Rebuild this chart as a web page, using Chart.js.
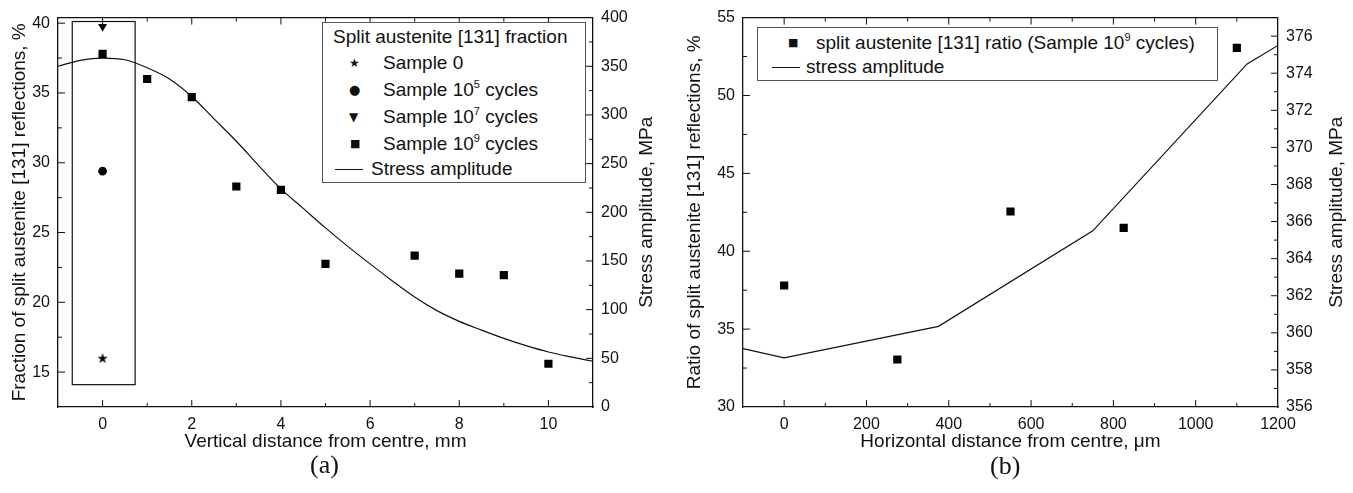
<!DOCTYPE html>
<html>
<head>
<meta charset="utf-8">
<script src="https://cdn.jsdelivr.net/npm/chart.js@4.4.1/dist/chart.umd.min.js"></script>
<style>
  body { margin: 0; background: #fff; width: 1353px; height: 493px; position: relative; overflow: hidden;
         font-family: 'Liberation Sans', Arial, sans-serif; color: #111; }
  canvas { position: absolute; top: 0; }
  #chartA { left: 0; }
  #chartB { left: 676px; }
  .legend { position: absolute; border: 1px solid #555; background: #fff; }
  .row { position: absolute; font-size: 19px; line-height: 20px; white-space: nowrap; }
  .row sup { font-size: 11px; vertical-align: 8px; line-height: 0; }
  .sym { position: absolute; font-family: 'DejaVu Sans', sans-serif; line-height: 20px; }
  .dash { position: absolute; height: 0; border-top: 1.3px solid #111; }
  .cap { position: absolute; font-family: 'Liberation Serif', 'Times New Roman', serif; font-size: 26px; }
</style>
</head>
<body>
<canvas id="chartA" width="676" height="493"></canvas>
<canvas id="chartB" width="677" height="493"></canvas>

<!-- legend (a) -->
<div class="legend" style="left:322px; top:22px; width:262px; height:159px;"></div>
<div class="row" style="left:333px; top:27px;">Split austenite [131] fraction</div>
<div class="sym" style="left:349px; top:53px; font-size:12px;">&#9733;</div>
<div class="row" style="left:383px; top:53px;">Sample 0</div>
<div class="sym" style="left:349px; top:80px; font-size:13px;">&#9679;</div>
<div class="row" style="left:383px; top:80px;">Sample 10<sup>5</sup> cycles</div>
<div class="sym" style="left:349px; top:107px; font-size:12px;">&#9660;</div>
<div class="row" style="left:383px; top:107px;">Sample 10<sup>7</sup> cycles</div>
<div class="sym" style="left:350px; top:134px; font-size:11px;">&#9632;</div>
<div class="row" style="left:383px; top:134px;">Sample 10<sup>9</sup> cycles</div>
<div class="dash" style="left:335px; top:169px; width:28px;"></div>
<div class="row" style="left:371px; top:159px;">Stress amplitude</div>

<!-- legend (b) -->
<div class="legend" style="left:757px; top:27px; width:459px; height:52px;"></div>
<div class="sym" style="left:788px; top:33px; font-size:11px;">&#9632;</div>
<div class="row" style="left:816px; top:33px;">split austenite [131] ratio (Sample 10<sup>9</sup> cycles)</div>
<div class="dash" style="left:772px; top:67px; width:28px;"></div>
<div class="row" style="left:806px; top:57px;">stress amplitude</div>

<div class="cap" style="left:310px; top:450px;">(a)</div>
<div class="cap" style="left:990px; top:451px;">(b)</div>

<script>
// ---- panel (a): vertical distance, mm ----
const aStressX = [-1, -0.5, 0, 0.5, 1, 1.5, 2, 2.5, 3, 3.5, 4, 4.5, 5, 5.5, 6, 6.5, 7, 7.5, 8, 8.5, 9, 9.5, 10, 10.5, 11];
const aStress  = [350, 356, 358.4, 356.7, 348.5, 337, 319, 296, 273, 248, 224, 204, 184, 165, 147, 129.5, 113, 99, 88, 79, 70.5, 63, 56.5, 51.5, 47];
const sample0X = [0],  sample0 = [16.0];
const sample5X = [0],  sample5 = [29.4];
const sample7X = [0],  sample7 = [39.75];
const sample9X = [0, 1, 2, 3, 4, 5, 7, 8, 9, 10];
const sample9  = [37.8, 36.0, 34.7, 28.3, 28.05, 22.75, 23.35, 22.05, 21.95, 15.6];
const aTicksX  = [0, 2, 4, 6, 8, 10];
const aTicksY  = [15, 20, 25, 30, 35, 40];
const aTicksY2 = [0, 50, 100, 150, 200, 250, 300, 350, 400];
// box drawn round the x = 0 samples (data units)
const boxA = { xMin: -0.68, xMax: 0.73, yMin: 14.1, yMax: 40.12 };

// ---- panel (b): horizontal distance, um ----
const bX       = [0, 275, 550, 825, 1100];
const bRatio   = [37.8, 33.05, 42.55, 41.5, 53.05];
const bStressX = [-100, 0, 375, 750, 1125, 1200];
const bStress  = [359.15, 358.65, 360.35, 365.5, 374.5, 375.5];
const bTicksX  = [0, 200, 400, 600, 800, 1000, 1200];
const bTicksY  = [30, 35, 40, 45, 50, 55];
const bTicksY2 = [356, 358, 360, 362, 364, 366, 368, 370, 372, 374, 376];

const pts = (xs, ys) => xs.map((x, i) => ({ x: x, y: ys[i] }));

Chart.defaults.font.family = "'Liberation Sans', Arial, sans-serif";
Chart.defaults.font.size = 16;
Chart.defaults.color = '#111';

// filled five point star for Sample 0
const star = document.createElement('canvas');
star.width = 12; star.height = 12;
(function () {
  const c = star.getContext('2d');
  c.fillStyle = '#000';
  c.beginPath();
  for (let i = 0; i < 10; i++) {
    const r = i % 2 ? 2.1 : 5.6;
    const a = -Math.PI / 2 + i * Math.PI / 5;
    c.lineTo(6 + r * Math.cos(a), 6.4 + r * Math.sin(a));
  }
  c.closePath();
  c.fill();
})();

// inward major/minor ticks, top frame line, box, right-hand title
const frame = {
  id: 'frame',
  afterDraw(chart, args, opts) {
    const ctx = chart.ctx, a = chart.chartArea;
    ctx.save();
    ctx.strokeStyle = '#111';
    ctx.lineWidth = 1.3;
    ctx.beginPath();
    ctx.moveTo(a.left, a.top); ctx.lineTo(a.right, a.top);
    ctx.stroke();
    ctx.lineWidth = 1;
    Object.keys(opts.minor).forEach(id => {
      const s = chart.scales[id];
      const major = opts.major[id], minor = opts.minor[id];
      for (let v = Math.ceil(s.min / minor) * minor; v <= s.max + 1e-9; v += minor) {
        const p = s.getPixelForValue(v);
        const isMajor = Math.abs(v / major - Math.round(v / major)) < 1e-6;
        const len = isMajor ? 7 : 4;
        ctx.beginPath();
        if (id === 'x') {
          if (p <= a.left + 1 || p >= a.right - 1) continue;
          ctx.moveTo(p, a.bottom); ctx.lineTo(p, a.bottom - len);
          ctx.moveTo(p, a.top); ctx.lineTo(p, a.top + len);
        } else if (id === 'y') {
          if (p >= a.bottom - 1 || p <= a.top + 1) continue;
          ctx.moveTo(a.left, p); ctx.lineTo(a.left + len, p);
        } else {
          if (p >= a.bottom - 1 || p <= a.top + 1) continue;
          ctx.moveTo(a.right, p); ctx.lineTo(a.right - len, p);
        }
        ctx.stroke();
      }
    });
    if (opts.box) {
      const x = chart.scales.x, y = chart.scales.y;
      ctx.lineWidth = 1.2;
      const l = x.getPixelForValue(opts.box.xMin), r = x.getPixelForValue(opts.box.xMax);
      const t = y.getPixelForValue(opts.box.yMax), b = y.getPixelForValue(opts.box.yMin);
      ctx.strokeRect(l, t, r - l, b - t);
    }
    ctx.fillStyle = '#111';
    ctx.font = "19px 'Liberation Sans', Arial, sans-serif";
    ctx.textAlign = 'center';
    ctx.textBaseline = 'middle';
    ctx.translate(opts.rightTitleX, (a.top + a.bottom) / 2);
    ctx.rotate(-Math.PI / 2);
    ctx.fillText(opts.rightTitle, 0, 0);
    ctx.restore();
  }
};

function axis(min, max, tickValues, extra) {
  return Object.assign({
    type: 'linear', min: min, max: max,
    grid: { display: false, drawTicks: false },
    border: { display: true, color: '#111', width: 1.3 },
    ticks: { padding: 8, color: '#111', callback: v => String(v) },
    afterBuildTicks: s => { s.ticks = tickValues.map(v => ({ value: v })); }
  }, extra);
}

new Chart(document.getElementById('chartA'), {
  type: 'scatter',
  data: {
    datasets: [
      { data: pts(sample9X, sample9), pointStyle: 'rect', pointRadius: 5.8, backgroundColor: '#000', borderWidth: 0, yAxisID: 'y' },
      { data: pts(sample7X, sample7), pointStyle: 'triangle', rotation: 180, pointRadius: 5.2, backgroundColor: '#000', borderWidth: 0, yAxisID: 'y' },
      { data: pts(sample5X, sample5), pointStyle: 'circle', pointRadius: 4.3, backgroundColor: '#000', borderWidth: 0, yAxisID: 'y' },
      { data: pts(sample0X, sample0), pointStyle: star, yAxisID: 'y' },
      { data: pts(aStressX, aStress), showLine: true, pointRadius: 0, borderColor: '#111', borderWidth: 1.2,
        cubicInterpolationMode: 'monotone', yAxisID: 'y2' }
    ]
  },
  options: {
    responsive: false, animation: false, devicePixelRatio: 1,
    layout: { padding: { top: 16, left: 0, right: 0, bottom: 0 } },
    plugins: {
      legend: { display: false }, tooltip: { enabled: false },
      frame: {
        major: { x: 2, y: 5, y2: 50 }, minor: { x: 1, y: 2.5, y2: 25 },
        box: boxA, rightTitle: 'Stress amplitude, MPa', rightTitleX: 647
      }
    },
    scales: {
      x: axis(-1, 11, aTicksX, {
        title: { display: true, text: 'Vertical distance from centre, mm', font: { size: 19 }, padding: { bottom: 40 } },
        afterFit: s => { s.height = 86; }
      }),
      y: axis(12.5, 40.4, aTicksY, {
        position: 'left',
        title: { display: true, text: 'Fraction of split austenite [131] reflections, %', font: { size: 19 }, padding: { top: 8.5 } },
        afterFit: s => { s.width = 58; }
      }),
      y2: axis(0, 400, aTicksY2, {
        position: 'right',
        afterFit: s => { s.width = 83; }
      })
    }
  },
  plugins: [frame]
});

new Chart(document.getElementById('chartB'), {
  type: 'scatter',
  data: {
    datasets: [
      { data: pts(bX, bRatio), pointStyle: 'rect', pointRadius: 5.8, backgroundColor: '#000', borderWidth: 0, yAxisID: 'y' },
      { data: pts(bStressX, bStress), showLine: true, pointRadius: 0, borderColor: '#111', borderWidth: 1.2, yAxisID: 'y2' }
    ]
  },
  options: {
    responsive: false, animation: false, devicePixelRatio: 1,
    layout: { padding: { top: 16, left: 0, right: 0, bottom: 0 } },
    plugins: {
      legend: { display: false }, tooltip: { enabled: false },
      frame: {
        major: { x: 200, y: 5, y2: 2 }, minor: { x: 100, y: 2.5, y2: 1 },
        rightTitle: 'Stress amplitude, MPa', rightTitleX: 661
      }
    },
    scales: {
      x: axis(-100, 1200, bTicksX, {
        title: { display: true, text: 'Horizontal distance from centre, \u03bcm', font: { size: 19 }, padding: { bottom: 40 } },
        afterFit: s => { s.height = 86; }
      }),
      y: axis(30, 55, bTicksY, {
        position: 'left',
        title: { display: true, text: 'Ratio of split austenite [131] reflections, %', font: { size: 19 }, padding: { top: 7.5 } },
        afterFit: s => { s.width = 67; }
      }),
      y2: axis(356, 377, bTicksY2, {
        position: 'right',
        afterFit: s => { s.width = 75; }
      })
    }
  },
  plugins: [frame]
});
</script>
</body>
</html>
